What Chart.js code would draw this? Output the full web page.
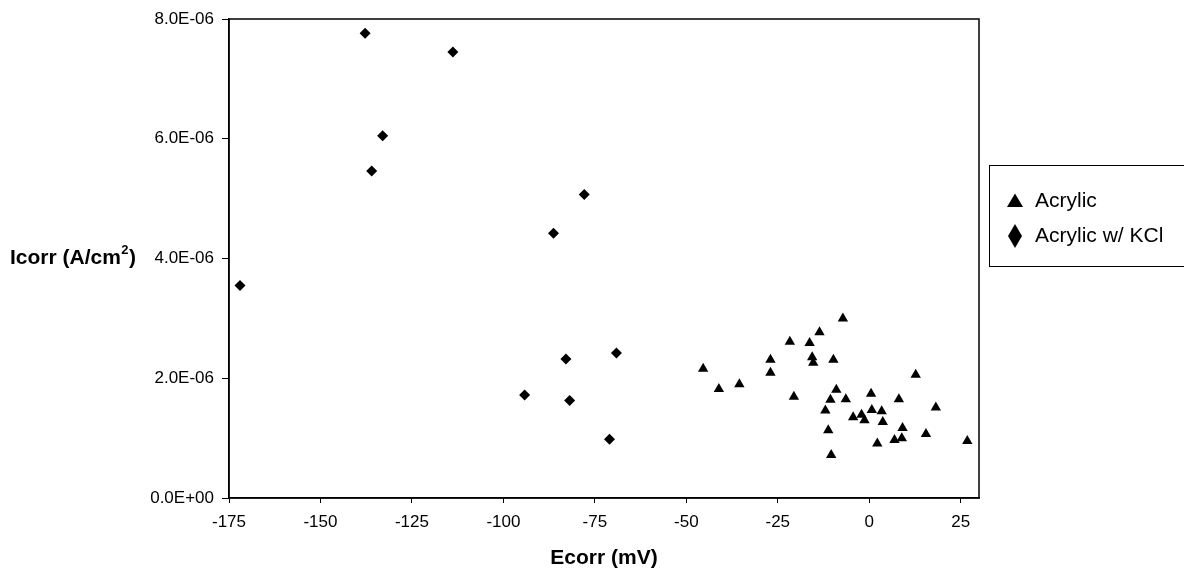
<!DOCTYPE html>
<html>
<head>
<meta charset="utf-8">
<script src="https://cdn.jsdelivr.net/npm/chart.js@4/dist/chart.umd.min.js"></script>
<style>
html,body{margin:0;padding:0;background:#fff;}
canvas{display:block;}
</style>
</head>
<body>
<canvas id="c" width="1184" height="571"></canvas>
<script>
// ---- data (Ecorr in mV, Icorr in A/cm2) ----
const acrylicE = [-45.4,-41.1,-35.5,-27.0,-27.0,-21.7,-20.6,-16.3,-13.6,-7.2,-15.6,-15.3,-9.8,-9.0,-10.6,-6.4,-12.0,-11.2,-10.4,0.5,-4.4,-2.1,-1.3,0.7,3.4,3.7,8.1,12.7,18.2,9.1,6.9,8.9,2.2,15.5,26.8];
const acrylicI = [2.16e-6,1.82e-6,1.90e-6,2.31e-6,2.09e-6,2.61e-6,1.69e-6,2.59e-6,2.77e-6,3.00e-6,2.35e-6,2.26e-6,2.31e-6,1.81e-6,1.64e-6,1.65e-6,1.46e-6,1.13e-6,0.72e-6,1.74e-6,1.35e-6,1.39e-6,1.30e-6,1.47e-6,1.45e-6,1.27e-6,1.65e-6,2.06e-6,1.51e-6,1.17e-6,0.97e-6,1.00e-6,0.91e-6,1.07e-6,0.95e-6];
const kclE = [-172.0,-137.8,-133.0,-136.0,-113.8,-77.9,-86.3,-94.2,-82.9,-81.9,-69.1,-71.0];
const kclI = [3.55e-6,7.76e-6,6.05e-6,5.46e-6,7.45e-6,5.07e-6,4.42e-6,1.72e-6,2.32e-6,1.63e-6,2.42e-6,0.98e-6];
const seriesLabels = ['Acrylic', 'Acrylic w/ KCl'];
const xTicks = [-175,-150,-125,-100,-75,-50,-25,0,25];
const yTicks = [0,2e-6,4e-6,6e-6,8e-6];
const xTitle = 'Ecorr (mV)';
const yTitleMain = 'Icorr (A/cm';
const yTitleSup = '2';
const yTitleEnd = ')';

const FONT = '"Liberation Sans", Arial, Helvetica, sans-serif';

function fmtExp(v){
  const s = Number(v).toExponential(1).split('e');
  const e = parseInt(s[1],10);
  return s[0] + 'E' + (e < 0 ? '-' : '+') + String(Math.abs(e)).padStart(2,'0');
}

const framePlugin = {
  id: 'frame',
  afterDraw(chart){
    const ctx = chart.ctx, a = chart.chartArea;
    ctx.save();
    ctx.strokeStyle = '#000';
    ctx.lineWidth = 1.5;
    ctx.strokeRect(a.left, a.top, a.right - a.left, a.bottom - a.top);
    // x title
    ctx.fillStyle = '#000';
    ctx.font = 'bold 21px ' + FONT;
    ctx.textAlign = 'center';
    ctx.textBaseline = 'middle';
    ctx.fillText(xTitle, (a.left + a.right) / 2, 558);
    // y title with superscript
    ctx.textAlign = 'left';
    let x = 10, y = 258;
    ctx.font = 'bold 21px ' + FONT;
    ctx.fillText(yTitleMain, x, y);
    x += ctx.measureText(yTitleMain).width;
    ctx.font = 'bold 13px ' + FONT;
    ctx.fillText(yTitleSup, x + 0.5, y - 8);
    x += ctx.measureText(yTitleSup).width + 1;
    ctx.font = 'bold 21px ' + FONT;
    ctx.fillText(yTitleEnd, x, y);
    // legend
    ctx.lineWidth = 1;
    ctx.strokeRect(989.5, 165.5, 220, 101);
    const labels = chart.data.datasets.map(d => d.label);
    ctx.font = '21px ' + FONT;
    ctx.textBaseline = 'middle';
    // triangle marker
    let cx = 1015, cy = 201;
    ctx.beginPath();
    ctx.moveTo(cx, cy - 7.5);
    ctx.lineTo(cx + 8, cy + 6);
    ctx.lineTo(cx - 8, cy + 6);
    ctx.closePath();
    ctx.fill();
    ctx.fillText(labels[0], 1035, 201);
    // diamond marker
    cx = 1015; cy = 236;
    ctx.beginPath();
    ctx.moveTo(cx, cy - 12);
    ctx.lineTo(cx + 7, cy);
    ctx.lineTo(cx, cy + 12);
    ctx.lineTo(cx - 7, cy);
    ctx.closePath();
    ctx.fill();
    ctx.fillText(labels[1], 1035, 236);
    ctx.restore();
  }
};

const acrylicPts = acrylicE.map((e,i) => ({x:e, y:acrylicI[i]}));
const kclPts = kclE.map((e,i) => ({x:e, y:kclI[i]}));

new Chart(document.getElementById('c'), {
  type: 'scatter',
  data: {
    datasets: [
      {label: seriesLabels[0], data: acrylicPts, pointStyle: 'triangle', pointRadius: 6,
       backgroundColor: '#000', borderColor: '#000', borderWidth: 0},
      {label: seriesLabels[1], data: kclPts, pointStyle: 'rectRot', pointRadius: 5.5,
       backgroundColor: '#000', borderColor: '#000', borderWidth: 0}
    ]
  },
  options: {
    responsive: false,
    animation: false,
    events: [],
    layout: {padding: {top: 19, right: 205, bottom: 0, left: 0}},
    plugins: {legend: {display: false}, tooltip: {enabled: false}},
    scales: {
      x: {
        type: 'linear', min: -175, max: 30,
        afterBuildTicks(s){ s.ticks = xTicks.map(v => ({value: v})); },
        afterFit(s){ s.height = 73; },
        ticks: {color: '#000', font: {family: FONT, size: 17}, padding: 9, maxRotation: 0, autoSkip: false,
                callback: v => String(v)},
        grid: {display: true, drawOnChartArea: false, drawTicks: true, tickLength: 5, color: '#000', lineWidth: 1},
        border: {display: true, color: '#000', width: 1.5}
      },
      y: {
        type: 'linear', min: 0, max: 8e-6,
        afterBuildTicks(s){ s.ticks = yTicks.map(v => ({value: v})); },
        afterFit(s){ s.width = 229; },
        ticks: {color: '#000', font: {family: FONT, size: 17}, padding: 8, autoSkip: false,
                callback: v => fmtExp(v)},
        grid: {display: true, drawOnChartArea: false, drawTicks: true, tickLength: 7, color: '#000', lineWidth: 1},
        border: {display: true, color: '#000', width: 1.5}
      }
    }
  },
  plugins: [framePlugin]
});
</script>
</body>
</html>
